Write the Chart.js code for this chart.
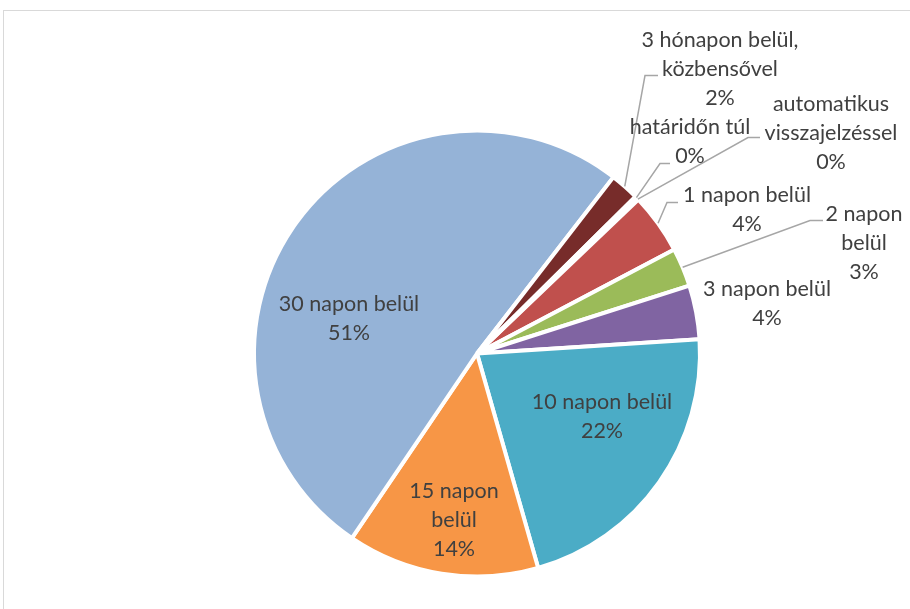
<!DOCTYPE html>
<html lang="hu">
<head>
<meta charset="utf-8">
<title>Válaszadási idő</title>
<script src="https://cdn.jsdelivr.net/npm/chart.js@4/dist/chart.umd.min.js"></script>
<style>
  html, body { margin: 0; padding: 0; background: #fff; overflow: hidden; }
  #frame {
    position: absolute; left: 3px; top: 10px;
    width: 1000px; height: 1000px;
    border: 1px solid #d9d9d9;
  }
  #wrap { position: absolute; left: 0; top: 0; width: 910px; height: 609px; }
</style>
</head>
<body>
<div id="frame"></div>
<div id="wrap"><canvas id="pie"></canvas></div>
<script>
'use strict';

// Kategóriák (soronként tördelve) és arányok, az óramutató járása szerint
const categories = [
  ['automatikus', 'visszajelzéssel'],
  ['1 napon belül'],
  ['2 napon', 'belül'],
  ['3 napon belül'],
  ['10 napon belül'],
  ['15 napon', 'belül'],
  ['30 napon belül'],
  ['3 hónapon belül,', 'közbensővel'],
  ['határidőn túl'],
];
const shares = [0.1, 4.4, 2.8, 3.9, 21.6, 13.9, 51.0, 2.1, 0.2];
const colors = [
  '#4f81bd', '#c0504d', '#9bbb59', '#8064a2', '#4bacc6',
  '#f79646', '#95b3d7', '#772c2a', '#5f7530',
];

// Címkék helye a kör középpontjához képest, vezetővonal könyökponttal
const labelPlacement = [
  { dx: 354, dy: -220, elbow: [271, -216], tail: 12 },
  { dx: 270, dy: -144, elbow: [190, -151], tail: 11 },
  { dx: 387, dy: -110, elbow: [333, -133], tail: 13 },
  { dx: 290, dy: -50 },
  { dx: 125, dy: 63 },
  { dx: -23, dy: 167 },
  { dx: -128, dy: -35 },
  { dx: 243, dy: -284, elbow: [168, -278], tail: 13 },
  { dx: 213, dy: -212, elbow: [183, -190], tail: 10 },
];

const textColor = '#404040';
const leaderColor = '#a6a6a6';
const lineHeight = 29;

const sliceLabels = {
  id: 'sliceLabels',
  afterDatasetsDraw(chart) {
    const ctx = chart.ctx;
    const meta = chart.getDatasetMeta(0);
    const total = shares.reduce((a, b) => a + b, 0);
    ctx.save();
    ctx.font = '21.5px Lato';
    ctx.textAlign = 'center';
    ctx.textBaseline = 'middle';
    meta.data.forEach((arc, i) => {
      const { x, y, startAngle, endAngle, outerRadius } = arc.getProps(
        ['x', 'y', 'startAngle', 'endAngle', 'outerRadius'], true
      );
      const place = labelPlacement[i];
      if (place.elbow) {
        const mid = (startAngle + endAngle) / 2;
        const ex = x + place.elbow[0];
        const ey = y + place.elbow[1];
        ctx.beginPath();
        ctx.moveTo(x + Math.cos(mid) * outerRadius, y + Math.sin(mid) * outerRadius);
        ctx.lineTo(ex, ey);
        ctx.lineTo(ex + place.tail, ey);
        ctx.strokeStyle = leaderColor;
        ctx.lineWidth = 1.5;
        ctx.stroke();
      }
      const lines = [...categories[i], Math.round(shares[i] / total * 100) + '%'];
      ctx.fillStyle = textColor;
      lines.forEach((t, k) => {
        ctx.fillText(t, x + place.dx, y + place.dy + (k - (lines.length - 1) / 2) * lineHeight);
      });
    });
    ctx.restore();
  },
};

new Chart(document.getElementById('pie'), {
  type: 'pie',
  data: {
    labels: categories,
    datasets: [{
      data: shares,
      backgroundColor: colors,
      borderColor: '#ffffff',
      borderWidth: 4,
    }],
  },
  options: {
    responsive: true,
    maintainAspectRatio: false,
    animation: false,
    rotation: 46,
    radius: 223,
    layout: { padding: { left: 44, top: 98, right: 0, bottom: 0 } },
    plugins: {
      legend: { display: false },
      tooltip: { enabled: false },
    },
  },
  plugins: [sliceLabels],
});
</script>
</body>
</html>
